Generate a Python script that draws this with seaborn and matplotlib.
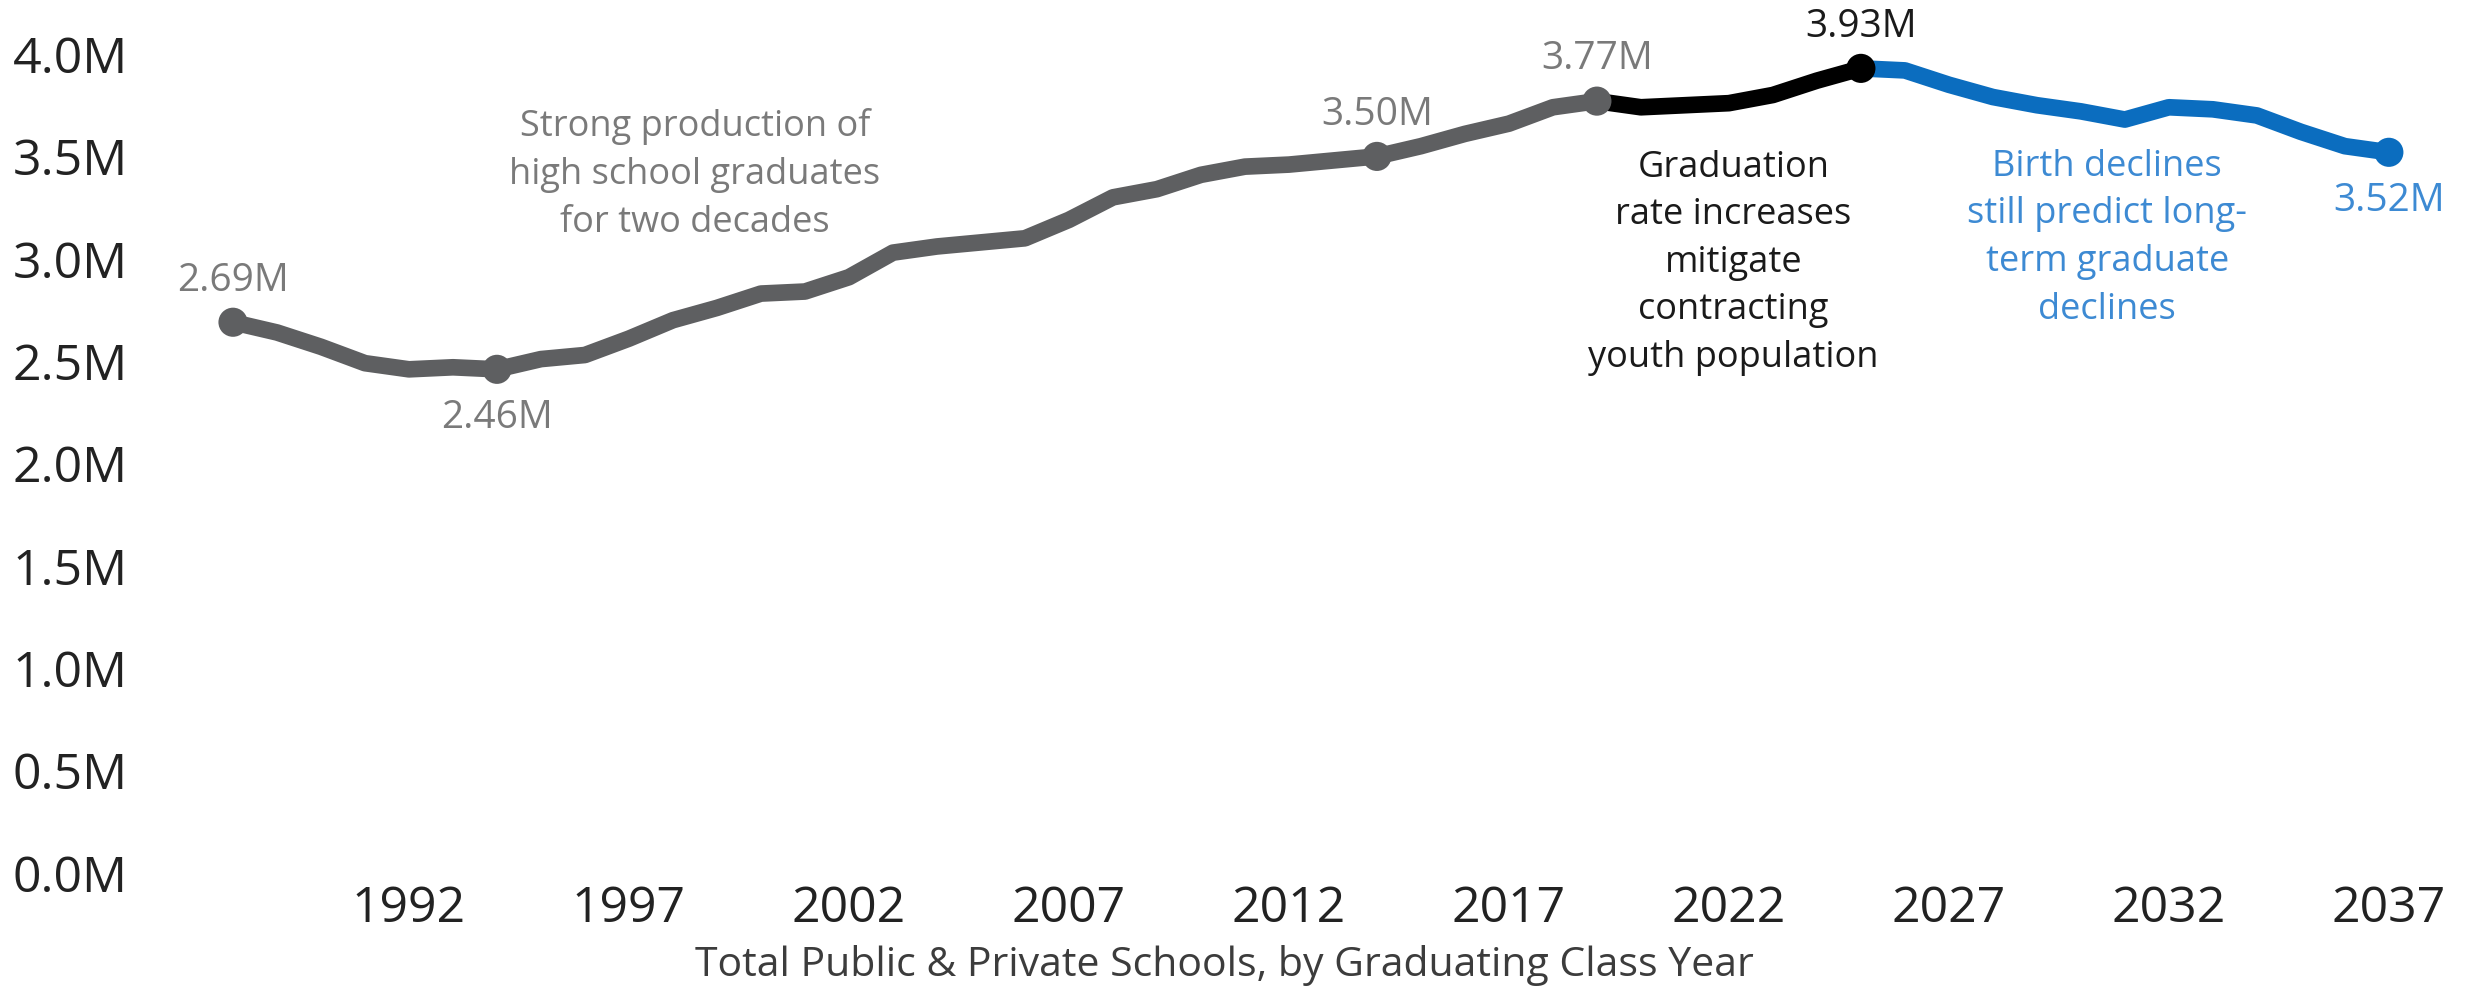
"""
High school graduates, 1988-2037 (actual and projected)
"""

import matplotlib.pyplot as plt
import matplotlib.ticker as mtick
import pandas as pd
import seaborn as sns

# Theme first, the font list after it (set_theme resets font.family)
sns.set_theme(style='white')
plt.rcParams['font.family'] = ['Open Sans', 'DejaVu Sans']

# Graduates per class year, in millions
YEARS = list(range(1988, 2038))
GRADUATES = [
    2.69, 2.64, 2.57, 2.49, 2.46, 2.47, 2.46, 2.51, 2.53, 2.61,
    2.70, 2.76, 2.83, 2.84, 2.91, 3.03, 3.06, 3.08, 3.10, 3.19,
    3.30, 3.34, 3.41, 3.45, 3.46, 3.48, 3.50, 3.55, 3.61, 3.66,
    3.74, 3.77, 3.74, 3.75, 3.76, 3.80, 3.87, 3.93, 3.92, 3.85,
    3.79, 3.75, 3.72, 3.68, 3.74, 3.73, 3.70, 3.62, 3.55, 3.52,
]

# Segment break years and the labelled years
SEGMENTS = ['history', 'rate', 'births']
SEGMENT_BOUNDS = [(1988, 2019), (2019, 2025), (2025, 2037)]
LABEL_YEARS = [1988, 1994, 2014, 2019, 2025, 2037]
LABEL_SEGMENT = ['history', 'history', 'history', 'history', 'rate', 'births']
LABEL_ABOVE = [True, False, True, True, True, False]

X_TICKS = list(range(1992, 2038, 5))
Y_TICKS = [0.0, 0.5, 1.0, 1.5, 2.0, 2.5, 3.0, 3.5, 4.0]

NOTES = {
    'history': 'Strong production of\nhigh school graduates\nfor two decades',
    'rate': 'Graduation\nrate increases\nmitigate\ncontracting\nyouth population',
    'births': 'Birth declines\nstill predict long-\nterm graduate\ndeclines',
}

LINE_COLORS = {'history': '#5e5f61', 'rate': '#000000', 'births': '#0b6dbf'}
TEXT_COLORS = {'history': '#7a7a7a', 'rate': '#1a1a1a', 'births': '#3d8ad3'}

# Long table: one block per segment, the boundary years repeated so the pieces join
rows = []
for seg, (start, end) in zip(SEGMENTS, SEGMENT_BOUNDS):
    for year, value in zip(YEARS, GRADUATES):
        if start <= year <= end:
            rows.append({'year': year, 'graduates': value, 'segment': seg})
df = pd.DataFrame(rows)

points = pd.DataFrame({
    'year': LABEL_YEARS,
    'graduates': [GRADUATES[YEARS.index(y)] for y in LABEL_YEARS],
    'segment': LABEL_SEGMENT,
})

fig = plt.figure(figsize=(24.66, 9.97), dpi=100)
ax = fig.add_axes([0.0811, 0.1244, 0.901, 0.8214])

sns.lineplot(data=df, x='year', y='graduates', hue='segment', palette=LINE_COLORS,
             linewidth=12, solid_capstyle='round', solid_joinstyle='round',
             legend=False, ax=ax, clip_on=False)
sns.scatterplot(data=points, x='year', y='graduates', hue='segment', palette=LINE_COLORS,
                s=440, linewidth=0, legend=False, ax=ax, clip_on=False, zorder=5)

# Value labels at the highlighted years
for year, value, seg, above in zip(points['year'], points['graduates'], points['segment'], LABEL_ABOVE):
    ax.annotate(f'{value:.2f}M', (year, value), xytext=(0, 30 if above else -35),
                textcoords='offset points', ha='center', va='center',
                fontsize=28, color=TEXT_COLORS[seg], annotation_clip=False)

# Narrative notes
ax.text(1998.5, 3.41, NOTES['history'], ha='center', va='center', fontsize=26,
        color=TEXT_COLORS['history'], linespacing=1.45)
ax.text(2022.1, 2.98, NOTES['rate'], ha='center', va='center', fontsize=26,
        color=TEXT_COLORS['rate'], linespacing=1.43)
ax.text(2030.6, 3.10, NOTES['births'], ha='center', va='center', fontsize=26,
        color=TEXT_COLORS['births'], linespacing=1.43)

# Axes
ax.set_xlim(1987.25, 2037.75)
ax.set_ylim(0, 4.0)
ax.set_xticks(X_TICKS)
ax.set_yticks(Y_TICKS)
ax.yaxis.set_major_formatter(mtick.FuncFormatter(lambda v, _: f'{v:.1f}M'))
ax.tick_params(axis='both', length=0, labelsize=36, colors='#222222')
ax.tick_params(axis='y', pad=52)
ax.tick_params(axis='x', pad=8)
ax.set_xlabel('Total Public & Private Schools, by Graduating Class Year',
              fontsize=29.5, color='#3c3c3c')
ax.xaxis.set_label_coords(0.461, -0.088)
ax.set_ylabel('')
sns.despine(ax=ax, left=True, bottom=True)
ax.grid(False)

fig.savefig('out.png', dpi=100, facecolor='white')
